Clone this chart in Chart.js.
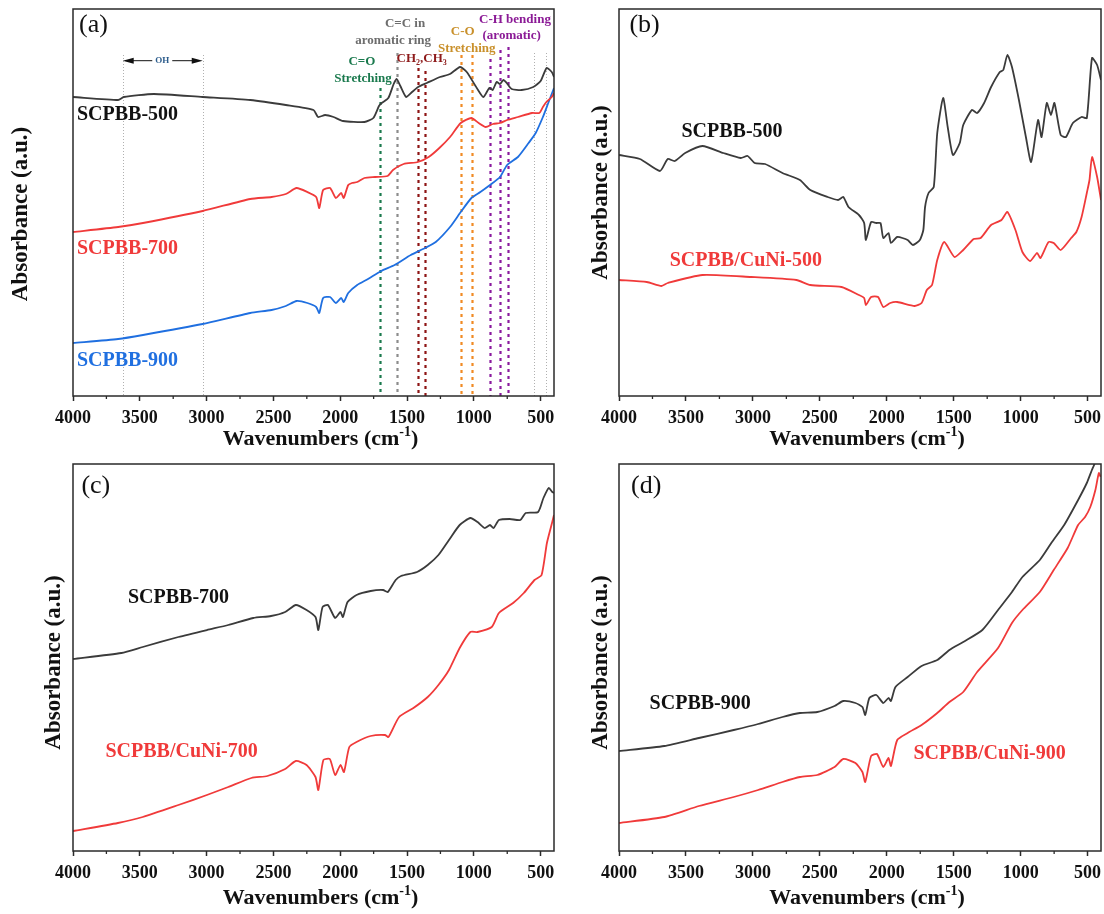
<!DOCTYPE html>
<html lang="en">
<head>
<meta charset="UTF-8">
<title>FTIR spectra of SCPBB and SCPBB/CuNi</title>
<script src="https://cdn.jsdelivr.net/npm/chart.js"></script>
<style>
  body { margin: 0; background: #fff; }
  #wrap { position: relative; width: 1104px; height: 914px; overflow: hidden; }
  #wrap canvas { position: absolute; }
</style>
</head>
<body>
<div id="wrap">
  <canvas id="chartA" width="558" height="458" style="left:0px;top:0px"></canvas>
  <canvas id="chartB" width="558" height="458" style="left:546px;top:0px"></canvas>
  <canvas id="chartC" width="558" height="458" style="left:0px;top:455px"></canvas>
  <canvas id="chartD" width="558" height="458" style="left:546px;top:455px"></canvas>
</div>
<script>
// axis ticks (wavenumber, cm-1)
const xTickLabels = [4000, 3500, 3000, 2500, 2000, 1500, 1000, 500];
const xMinorTicks = [3750, 3250, 2750, 2250, 1750, 1250, 750];

// (a) SCPBB-500 / 700 / 900  (absorbance in arbitrary units)
const a500Wn = [4000,3662,3620,3395,3030,2673,2407,2200,2166,2113,2050,1979,1819,1752,1710,1690,1640,1600,1577,1550,1507,1470,1417,1352,1253,1178,1103,1053,978,929,884,859,829,804,779,754,717,642,555,500,455,417,400];
const a500Abs = [299,296,299,302,299,296,291,286,279,281,279,275,274,278,290,293,298,312,317,310,299,303,309,313,319,322,329,324,308,299,308,306,314,312,316,313,307,306,309,315,328,324,319];
const a700Wn = [4000,3662,3476,3030,2673,2514,2407,2327,2246,2180,2157,2128,2076,2033,1993,1974,1940,1912,1873,1819,1739,1646,1605,1525,1418,1338,1258,1178,1098,1018,964,911,857,804,751,670,564,510,483,457,417,400];
const a700Abs = [164,169,173,185,197,199,202,208,204,199,188,206,208,198,203,198,211,213,214,218,219,220,226,232,234,239,248,259,273,278,273,269,272,273,276,279,283,283,289,294,299,303];
const a900Wn = [4000,3662,3476,3030,2673,2514,2407,2327,2246,2180,2157,2128,2076,2033,1993,1974,1940,1873,1792,1694,1593,1472,1365,1285,1178,1098,1018,951,879,804,751,670,590,537,483,443,400];
const a900Abs = [53,57,61,72,83,86,90,95,93,89,83,98,99,93,98,94,103,111,117,125,131,141,148,154,169,184,198,204,211,219,231,239,253,263,279,293,308];

// (b) SCPBB-500 vs SCPBB/CuNi-500
const b500Wn = [4000,3844,3694,3636,3584,3506,3377,3221,3091,3039,2987,2909,2779,2649,2571,2442,2364,2325,2286,2208,2169,2156,2117,2078,2047,2026,1987,1969,1922,1844,1805,1753,1727,1714,1688,1649,1623,1579,1545,1506,1455,1429,1364,1325,1273,1221,1156,1130,1099,1065,1013,961,922,870,844,805,774,748,701,662,610,545,506,467,429,400];
const b500Abs = [241,237,225,237,235,243,250,243,238,240,233,232,223,216,206,199,196,199,189,181,173,156,174,173,173,158,163,153,159,156,151,156,166,189,203,209,263,298,269,241,253,271,286,283,293,309,324,326,341,329,296,259,234,276,259,293,281,293,261,259,273,279,278,338,331,316];
const bCu500Wn = [4000,3792,3683,3636,3377,3013,2675,2571,2338,2208,2169,2156,2117,2065,2026,1974,1922,1792,1740,1701,1662,1623,1571,1494,1429,1351,1299,1221,1143,1099,1039,987,930,878,852,792,753,701,623,584,545,506,486,467,429,400];
const bCu500Abs = [116,114,110,113,121,119,116,111,109,101,98,91,99,99,89,93,94,90,93,106,111,136,154,139,146,157,158,171,176,184,166,144,135,143,138,154,153,146,158,164,179,203,216,239,219,196];

// (c) SCPBB-700 vs SCPBB/CuNi-700
const c700Wn = [4000,3638,3478,3211,2998,2838,2651,2518,2412,2332,2252,2185,2164,2132,2092,2038,1998,1980,1945,1878,1772,1679,1644,1585,1545,1425,1345,1265,1186,1106,1026,972,919,879,852,812,732,652,612,519,479,439,413,400];
const c700Abs = [192,198,204,214,221,226,233,235,239,246,241,234,221,244,246,233,239,234,249,256,260,261,259,271,275,279,286,296,311,326,333,329,323,326,323,331,332,331,338,339,353,363,359,358];
const cCu700Wn = [4000,3664,3478,3211,2998,2838,2665,2545,2412,2332,2252,2185,2164,2126,2078,2038,1998,1972,1932,1878,1772,1665,1639,1559,1452,1345,1265,1186,1106,1026,972,866,812,706,626,546,493,453,413,400];
const cCu700Abs = [20,28,34,46,56,64,73,75,82,90,86,74,61,91,92,76,86,79,104,109,115,116,114,134,143,154,166,181,203,219,219,224,238,248,258,271,276,308,329,336];

// (d) SCPBB-900 vs SCPBB/CuNi-900
const d900Wn = [4000,3662,3403,3143,2961,2779,2649,2519,2390,2325,2234,2182,2161,2130,2078,2026,1987,1969,1935,1844,1740,1623,1532,1429,1286,1169,1065,987,857,766,675,571,506,468,449,430];
const d900Abs = [100,105,113,121,127,134,138,139,145,150,148,144,136,153,156,148,153,150,164,174,185,191,201,209,221,241,259,274,291,309,326,351,368,381,387,402];
const dCu900Wn = [4000,3662,3403,3143,2961,2779,2649,2519,2390,2325,2234,2182,2161,2117,2073,2026,1987,1969,1922,1844,1740,1623,1532,1429,1325,1169,1065,987,857,753,649,571,519,480,442,416,403];
const dCu900Abs = [28,34,45,54,61,69,74,76,84,92,88,79,69,95,97,84,93,85,111,118,126,138,149,159,179,203,228,241,259,281,303,326,334,344,361,378,374];

// band markers in panel (a)
const markerWn = [3628, 3029, 1700, 1575, 1418, 1365, 1098, 1015, 879, 807, 745, 550, 457];
const markerTop = [341, 341, 308, 343, 328, 325, 341, 341, 337, 346, 349, 343, 343];
const markerKind = ['thin', 'thin', 'green', 'grey', 'dred', 'dred', 'orange', 'orange', 'purple', 'purple', 'purple', 'thin', 'thin'];

const SERIF = '"Times New Roman", "Liberation Serif", serif';
const BLACK = '#3b3b3b', RED = '#f03a3a', BLUE = '#1f6fe0';
const dotColors = { thin: '#b0b0b0', green: '#1b7a4e', grey: '#8c8c8c', dred: '#8e1414', orange: '#f08a24', purple: '#8a1a9e' };

function drawRich(ctx, parts, x, y, size, color, align, weight) {
  ctx.save();
  ctx.fillStyle = color;
  ctx.textBaseline = 'middle';
  ctx.textAlign = 'left';
  const small = Math.round(size * 0.62);
  const w = weight || 'bold';
  const widths = parts.map(p => {
    ctx.font = w + ' ' + (p[1] ? small : size) + 'px ' + SERIF;
    return ctx.measureText(p[0]).width;
  });
  const total = widths.reduce((s, v) => s + v, 0);
  let cx = align === 'left' ? x : x - total / 2;
  parts.forEach((p, i) => {
    ctx.font = w + ' ' + (p[1] ? small : size) + 'px ' + SERIF;
    const dy = p[1] === 'sub' ? size * 0.3 : (p[1] === 'sup' ? -size * 0.32 : 0);
    ctx.fillText(p[0], cx, y + dy);
    cx += widths[i];
  });
  ctx.restore();
}

function drawAnnotations(chart) {
  const ctx = chart.ctx, xs = chart.scales.x, ys = chart.scales.y;
  const bottom = chart.chartArea.bottom;
  ctx.save();
  markerWn.forEach((wn, i) => {
    const px = Math.round(xs.getPixelForValue(wn)) + 0.5;
    const kind = markerKind[i];
    ctx.beginPath();
    ctx.strokeStyle = dotColors[kind];
    if (kind === 'thin') { ctx.lineWidth = 1; ctx.setLineDash([1, 2]); }
    else { ctx.lineWidth = 2.2; ctx.setLineDash([3, 4]); }
    ctx.moveTo(px, ys.getPixelForValue(markerTop[i]));
    ctx.lineTo(px, bottom);
    ctx.stroke();
  });
  ctx.setLineDash([]);
  // OH double arrow
  const ay = ys.getPixelForValue(335.3);
  const xl = xs.getPixelForValue(3628), xr = xs.getPixelForValue(3029), xm = xs.getPixelForValue(3332);
  ctx.strokeStyle = '#111'; ctx.fillStyle = '#111'; ctx.lineWidth = 1;
  ctx.beginPath();
  ctx.moveTo(xl + 10, ay); ctx.lineTo(xm - 10, ay);
  ctx.moveTo(xm + 10, ay); ctx.lineTo(xr - 10, ay);
  ctx.stroke();
  ctx.beginPath();
  ctx.moveTo(xl, ay); ctx.lineTo(xl + 11, ay - 3); ctx.lineTo(xl + 11, ay + 3); ctx.closePath();
  ctx.moveTo(xr, ay); ctx.lineTo(xr - 11, ay - 3); ctx.lineTo(xr - 11, ay + 3); ctx.closePath();
  ctx.fill();
  ctx.restore();
  drawRich(ctx, [['OH']], xm, ay, 9, '#2c5c8c', 'center');
  const notes = [
    [[['C=O']], 1838, 334, '#1b7a4e'],
    [[['Stretching']], 1829, 317, '#1b7a4e'],
    [[['C=C in']], 1515, 372, '#6d6d6d'],
    [[['aromatic ring']], 1604, 355, '#6d6d6d'],
    [[['CH'], ['2', 'sub'], [',CH'], ['3', 'sub']], 1390, 337, '#8e1b1b'],
    [[['C-O']], 1083, 364, '#c9902b'],
    [[['Stretching']], 1053, 347, '#c9902b'],
    [[['C-H bending']], 692, 376, '#8b1a96'],
    [[['(aromatic)']], 717, 360, '#8b1a96']
  ];
  notes.forEach(n => drawRich(ctx, n[0], xs.getPixelForValue(n[1]), ys.getPixelForValue(n[2]), 13, n[3], 'center'));
}

function makeChart(id, panel) {
  const decor = {
    id: 'decor',
    beforeDatasetsDraw(chart) {
      if (panel.annotate) drawAnnotations(chart);
    },
    afterDraw(chart) {
      const ctx = chart.ctx, a = chart.chartArea, xs = chart.scales.x;
      ctx.save();
      ctx.strokeStyle = '#2a2a2a';
      ctx.lineWidth = 1.5;
      ctx.strokeRect(a.left, a.top, a.right - a.left, a.bottom - a.top);
      ctx.lineWidth = 1.3;
      ctx.beginPath();
      xMinorTicks.forEach(v => {
        const px = xs.getPixelForValue(v);
        ctx.moveTo(px, a.bottom);
        ctx.lineTo(px, a.bottom + 3);
      });
      ctx.stroke();
      ctx.restore();
      // x title with superscript
      drawRich(ctx, [['Wavenumbers (cm'], ['-1', 'sup'], [')']], (a.left + a.right) / 2 + 7, panel.xTitleY, 22, '#111', 'center');
      // y title, rotated
      ctx.save();
      ctx.translate(panel.yTitle[0], panel.yTitle[1]);
      ctx.rotate(-Math.PI / 2);
      drawRich(ctx, [['Absorbance (a.u.)']], 0, 0, 23, '#111', 'center');
      ctx.restore();
      drawRich(ctx, [[panel.letter[0]]], panel.letter[1], panel.letter[2], 26, '#111', 'left', 'normal');
      panel.labels.forEach(l => drawRich(ctx, [[l[0]]], l[1], l[2], 20, l[3], 'left'));
    }
  };
  return new Chart(document.getElementById(id), {
    type: 'line',
    data: {
      datasets: panel.series.map(s => ({
        data: s[0].map((w, i) => ({ x: w, y: s[1][i] })),
        borderColor: s[2],
        borderWidth: 1.8,
        pointRadius: 0,
        tension: 0.2,
        fill: false
      }))
    },
    options: {
      responsive: false,
      animation: false,
      devicePixelRatio: 1,
      layout: { padding: { left: 73, right: panel.padRight, top: 9, bottom: 0 } },
      scales: {
        x: {
          type: 'linear', min: 400, max: 4000, reverse: true,
          afterBuildTicks: s => { s.ticks = xTickLabels.map(v => ({ value: v })); },
          afterFit: s => { s.height = 62; s.paddingLeft = 0; s.paddingRight = 0; },
          ticks: {
            font: { family: SERIF, size: 18, weight: 'bold' }, color: '#111', padding: 7,
            maxRotation: 0, autoSkip: false,
            callback: v => String(v)
          },
          grid: { display: true, drawOnChartArea: false, drawTicks: true, tickLength: 5, tickWidth: 1.5, tickColor: '#2a2a2a' },
          border: { display: false }
        },
        y: { display: false, min: 0, max: 387 }
      },
      plugins: { legend: { display: false }, tooltip: { enabled: false } }
    },
    plugins: [decor]
  });
}

makeChart('chartA', {
  series: [[a500Wn, a500Abs, BLACK], [a700Wn, a700Abs, RED], [a900Wn, a900Abs, BLUE]],
  labels: [['SCPBB-500', 77, 115, '#111'], ['SCPBB-700', 77, 249, RED], ['SCPBB-900', 77, 361, BLUE]],
  letter: ['(a)', 79, 25], yTitle: [21.5, 214], xTitleY: 439.5, padRight: 4, annotate: true
});
makeChart('chartB', {
  series: [[b500Wn, b500Abs, BLACK], [bCu500Wn, bCu500Abs, RED]],
  labels: [['SCPBB-500', 135.5, 131.7, '#111'], ['SCPBB/CuNi-500', 123.7, 261, RED]],
  letter: ['(b)', 83.4, 25], yTitle: [55, 192.5], xTitleY: 439.5, padRight: 3
});
makeChart('chartC', {
  series: [[c700Wn, c700Abs, BLACK], [cCu700Wn, cCu700Abs, RED]],
  labels: [['SCPBB-700', 128, 143.3, '#111'], ['SCPBB/CuNi-700', 105.5, 296.7, RED]],
  letter: ['(c)', 81.4, 31], yTitle: [53.6, 207.5], xTitleY: 443.3, padRight: 4
});
makeChart('chartD', {
  series: [[d900Wn, d900Abs, BLACK], [dCu900Wn, dCu900Abs, RED]],
  labels: [['SCPBB-900', 103.6, 249, '#111'], ['SCPBB/CuNi-900', 367.5, 299, RED]],
  letter: ['(d)', 85, 31], yTitle: [54.6, 207.5], xTitleY: 443.3, padRight: 3
});
</script>
</body>
</html>
